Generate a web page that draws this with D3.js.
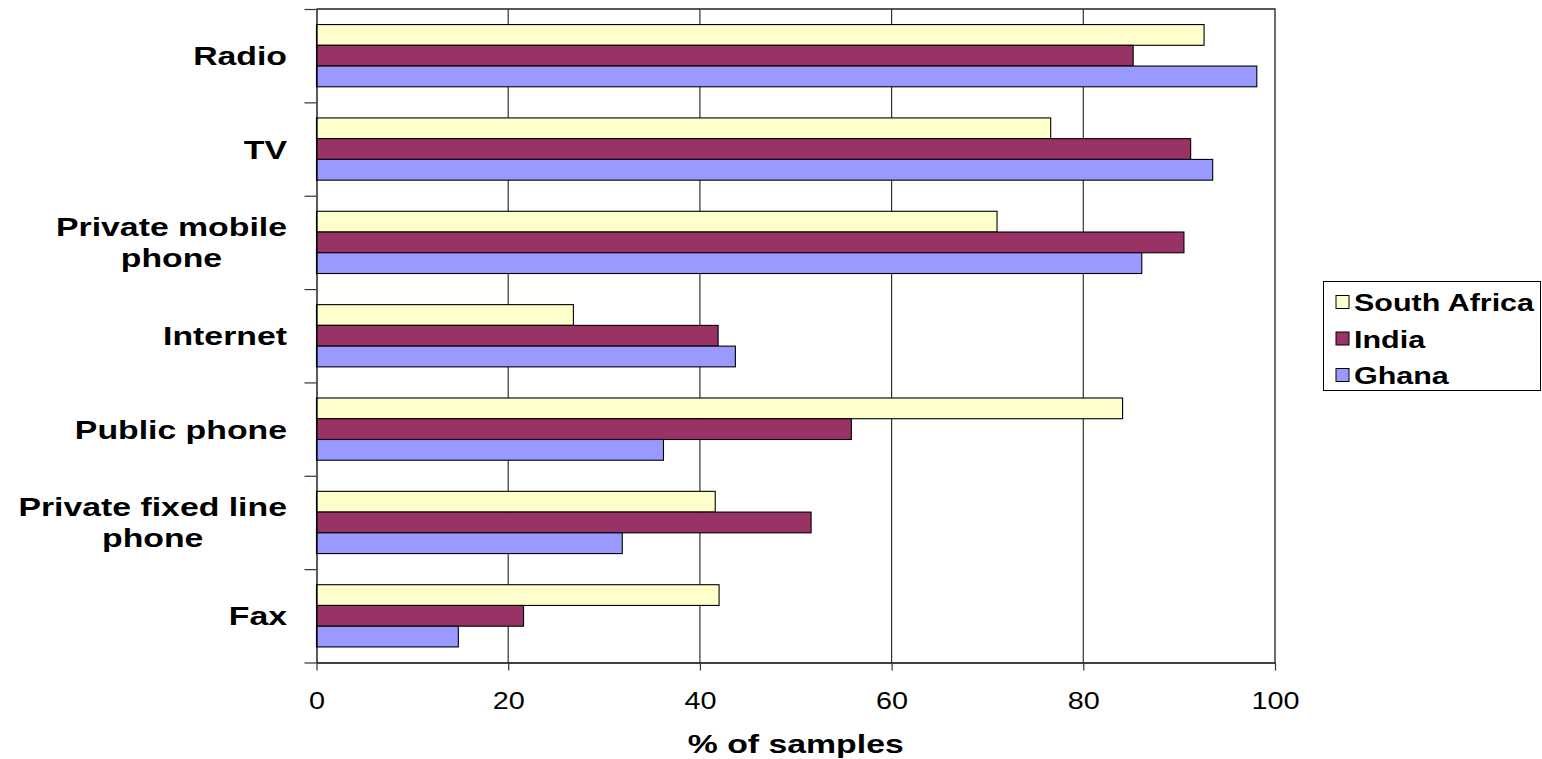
<!DOCTYPE html>
<html>
<head>
<meta charset="utf-8">
<script src="https://cdn.jsdelivr.net/npm/d3@7"></script>
<style>
  html, body { margin: 0; padding: 0; background: #fff; }
  svg { display: block; font-family: "Liberation Sans", Arial, sans-serif; }
</style>
</head>
<body>
<svg id="chart" width="1542" height="759"></svg>
<script>
const categories = ["Radio", "TV", "Private mobile phone", "Internet", "Public phone", "Private fixed line phone", "Fax"];
const categoryLines = [["Radio"], ["TV"], ["Private mobile", "phone"], ["Internet"], ["Public phone"], ["Private fixed line", "phone"], ["Fax"]];
const seriesNames = ["South Africa", "India", "Ghana"];
const southAfrica = [92.6, 76.6, 71.0, 26.8, 84.1, 41.6, 42.0];
const india       = [85.2, 91.2, 90.5, 41.9, 55.8, 51.6, 21.6];
const ghana       = [98.1, 93.5, 86.1, 43.7, 36.2, 31.9, 14.8];
const xTicks = [0, 20, 40, 60, 80, 100];
const xTitle = "% of samples";
const colors = ["#FFFFCC", "#993366", "#9999FF"];

const series = [southAfrica, india, ghana];
const SX = 1.3; // horizontal text stretch of the original picture

const svg = d3.select("#chart");
const L = 316.5, R = 1275, T = 9, B = 662.5;

const x = d3.scaleLinear().domain([0, 100]).range([L, R]);
const y = d3.scaleBand().domain(categories).range([T, B]).paddingInner(0).paddingOuter(0);
const ys = d3.scaleBand().domain(seriesNames).range([0, y.bandwidth()]).paddingInner(0).paddingOuter(0.75);
const yEdge = d3.scaleLinear().domain([0, categories.length]).range([T, B]);

// gridlines
svg.append("g").selectAll("line").data(xTicks.filter(v => v > 0 && v < 100)).join("line")
  .attr("x1", d => x(d)).attr("x2", d => x(d)).attr("y1", T).attr("y2", B)
  .attr("stroke", "#333").attr("stroke-width", 1.2);

// plot border (top & right)
svg.append("path")
  .attr("d", `M${L},${T}H${R}V${B}`)
  .attr("fill", "none").attr("stroke", "#222").attr("stroke-width", 1.3);

// bars
const rows = categories.map((c, i) => ({ c, vals: series.map((s, k) => ({ name: seriesNames[k], v: s[i], k })) }));
const g = svg.append("g");
rows.forEach(r => {
  g.append("g").selectAll("rect").data(r.vals).join("rect")
    .attr("x", x(0))
    .attr("y", d => y(r.c) + ys(d.name))
    .attr("width", d => x(d.v) - x(0))
    .attr("height", ys.bandwidth())
    .attr("fill", d => colors[d.k])
    .attr("stroke", "#000").attr("stroke-width", 1.1);
});

// x axis
const xAxis = svg.append("g").attr("transform", `translate(0,${B})`)
  .call(d3.axisBottom(x).tickValues(xTicks).tickSize(8).tickSizeOuter(0).tickPadding(0).tickFormat(d3.format("d")));
xAxis.select(".domain").attr("stroke", "#000").attr("stroke-width", 1.3);
xAxis.selectAll(".tick line").attr("stroke", "#333").attr("stroke-width", 1.2);
xAxis.selectAll(".tick text")
  .attr("y", 47).attr("dy", null)
  .attr("font-size", 24).attr("fill", "#000")
  .attr("font-family", "Liberation Sans, Arial, sans-serif")
  .attr("transform", `scale(${1.2},1)`);

// y axis (category boundaries)
const yAxis = svg.append("g").attr("transform", `translate(${L},0)`)
  .call(d3.axisLeft(yEdge).ticks(categories.length).tickSize(12).tickSizeOuter(0).tickFormat(""));
yAxis.select(".domain").attr("stroke", "#000").attr("stroke-width", 1.3);
yAxis.selectAll(".tick line").attr("stroke", "#333").attr("stroke-width", 1.2);

// category labels
const labelRight = 287;
const lineH = 31;
categoryLines.forEach((lines, i) => {
  const cy = y(categories[i]) + y.bandwidth() / 2;
  const grp = svg.append("g");
  const texts = lines.map(t => grp.append("text").text(t)
    .attr("font-size", 26).attr("font-weight", "bold").attr("fill", "#000").attr("text-anchor", "middle"));
  const maxW = d3.max(texts, t => t.node().getComputedTextLength());
  const cx = labelRight - maxW * SX / 2;
  const n = lines.length;
  texts.forEach((t, j) => {
    const base = cy + 9.5 + (j - (n - 1) / 2) * lineH;
    t.attr("transform", `translate(${cx},${base}) scale(${SX},1)`);
  });
});

// x title
svg.append("text").text(xTitle)
  .attr("font-size", 26).attr("font-weight", "bold").attr("text-anchor", "middle")
  .attr("transform", `translate(${(L + R) / 2},753) scale(${SX},1)`);

// legend
const lg = svg.append("g");
lg.append("rect").attr("x", 1323.5).attr("y", 281.5).attr("width", 217).attr("height", 109)
  .attr("fill", "#fff").attr("stroke", "#000").attr("stroke-width", 1);
seriesNames.forEach((name, k) => {
  const cy = 302.5 + k * 36.5;
  lg.append("rect").attr("x", 1336).attr("y", cy - 7).attr("width", 13).attr("height", 13)
    .attr("fill", colors[k]).attr("stroke", "#000").attr("stroke-width", 1);
  lg.append("text").text(name)
    .attr("font-size", 24).attr("font-weight", "bold")
    .attr("transform", `translate(1354,${cy + 8.5}) scale(1.27,1)`);
});
</script>
</body>
</html>
